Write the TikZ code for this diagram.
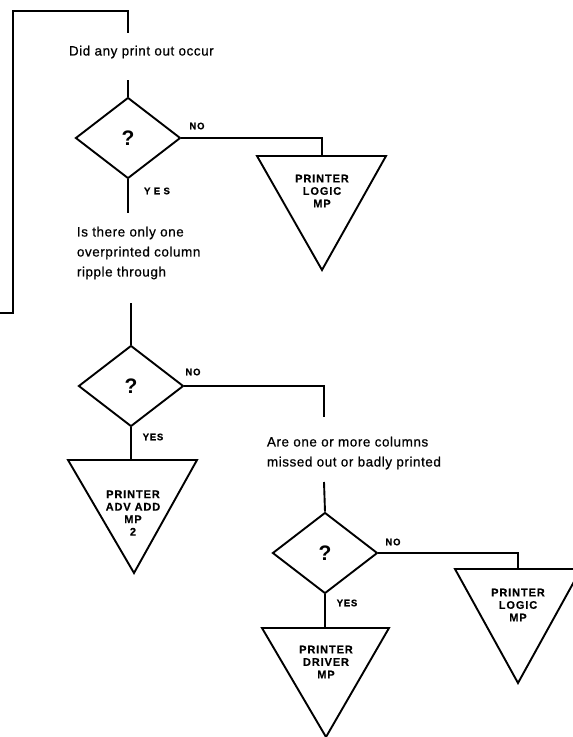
\documentclass[tikz,border=0pt]{standalone}
\usepackage{fontspec}
\setmainfont{Liberation Sans}
\newfontfamily\qfont[LetterSpace=4,FakeBold=0.6]{Liberation Sans}
\newfontfamily\tagfont[LetterSpace=8,FakeBold=0.6]{Liberation Sans}
\usetikzlibrary{shapes.geometric}

\begin{document}
\begin{tikzpicture}[x=1pt, y=-1pt, line width=1.9pt,
  decision/.style={draw, diamond, minimum width=105pt, minimum height=81pt,
    inner sep=0pt, font=\bfseries\fontsize{21}{21}\selectfont},
  question/.style={font=\qfont\fontsize{13.5}{20}\selectfont, align=left,
    anchor=west, inner sep=0pt},
  branch/.style={font=\tagfont\bfseries\fontsize{9.5}{9.5}\selectfont, inner sep=0pt},
  target/.style={font=\tagfont\bfseries\fontsize{11}{12.5}\selectfont,
    align=center, inner sep=0pt}]

\useasboundingbox (0,0) rectangle (573,737);

% return loop from the previous sheet
\coordinate (inL) at (0,313);
\coordinate (in1) at (13,313);
\coordinate (in2) at (13,11);
\coordinate (in3) at (128,11);
\coordinate (in4) at (128,33);
\draw (inL) -- (in1) -- (in2) -- (in3) -- (in4);

% first question
\node[question] (q1) at (68,52) {Did any print out occur};
\coordinate (q1b) at (128,80);
\node[decision] (d1) at (128,138) {?};
\draw (q1b) -- (d1.north);
\node[branch] (no1) at (197,126) {NO};
\node[branch] (yes1) at (157,191) {Y E S};

% printer logic (first)
\coordinate (t1) at (322,156);
\coordinate (t1l) at (257,156);
\coordinate (t1r) at (386,156);
\coordinate (t1a) at (322,270);
\draw (t1l) -- (t1r) -- (t1a) -- cycle;
\node[target] (l1) at (322,191) {PRINTER\\LOGIC\\MP};
\draw (d1.east) -| (t1);

% second question
\coordinate (y1) at (128,213);
\draw (d1.south) -- (y1);
\node[question] (q2) at (76,253) {Is there only one\\overprinted column\\ripple through};
\coordinate (q2b) at (131,303);
\node[decision] (d2) at (131,386) {?};
\draw (q2b) -- (d2.north);
\node[branch] (no2) at (193,372) {NO};
\node[branch] (yes2) at (153,437) {YES};

% printer adv add
\coordinate (t2) at (131,460);
\coordinate (t2l) at (68,460);
\coordinate (t2r) at (197,460);
\coordinate (t2a) at (134,573);
\draw (t2l) -- (t2r) -- (t2a) -- cycle;
\node[target] (l2) at (133,513) {PRINTER\\ADV ADD\\MP\\2};
\draw (d2.south) -- (t2);

% third question
\coordinate (n2) at (324,417);
\draw (d2.east) -| (n2);
\node[question] (q3) at (266,453) {Are one or more columns\\missed out or badly printed};
\coordinate (q3b) at (324,482);
\node[decision] (d3) at (325,553) {?};
\draw (q3b) -- (d3.north);
\node[branch] (no3) at (393,542) {NO};
\node[branch] (yes3) at (347,603) {YES};

% printer logic (second)
\coordinate (t5) at (518,569);
\coordinate (t5l) at (455,569);
\coordinate (t5r) at (581,569);
\coordinate (t5a) at (518,683);
\draw (t5l) -- (t5r) -- (t5a) -- cycle;
\node[target] (l5) at (518,605) {PRINTER\\LOGIC\\MP};
\draw (d3.east) -| (t5);

% printer driver
\coordinate (t4) at (325,628);
\coordinate (t4l) at (262,628);
\coordinate (t4r) at (389,628);
\coordinate (t4a) at (326,737);
\draw (t4l) -- (t4r) -- (t4a) -- cycle;
\node[target] (l4) at (326,662) {PRINTER\\DRIVER\\MP};
\draw (d3.south) -- (t4);

\end{tikzpicture}
\end{document}
